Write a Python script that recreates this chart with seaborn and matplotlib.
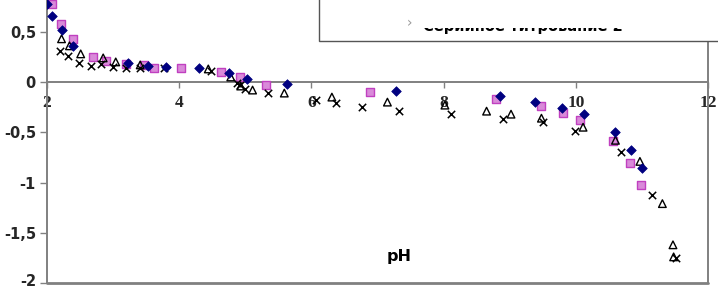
import matplotlib
matplotlib.use("Agg")
import matplotlib.pyplot as plt
import matplotlib.transforms as mtransforms
import seaborn as sns
import pandas as pd
from matplotlib.patches import Rectangle

# ---- data ----
dia_x = [2.0, 2.08, 2.22, 2.40, 3.23, 3.53, 3.80, 4.30, 4.76, 5.03, 5.63, 7.28,
         8.86, 9.39, 9.79, 10.12, 10.59, 10.84, 11.0]
dia_y = [0.78, 0.66, 0.52, 0.36, 0.19, 0.16, 0.15, 0.14, 0.09, 0.03, -0.02, -0.09,
         -0.14, -0.20, -0.26, -0.32, -0.50, -0.68, -0.86]

sq_x = [2.08, 2.21, 2.40, 2.69, 2.89, 3.19, 3.46, 3.62, 4.03, 4.63, 4.92, 5.31,
        6.89, 8.80, 9.48, 9.81, 10.06, 10.57, 10.82, 10.98]
sq_y = [0.78, 0.58, 0.43, 0.25, 0.21, 0.18, 0.17, 0.14, 0.14, 0.10, 0.05, -0.03,
        -0.10, -0.17, -0.24, -0.31, -0.38, -0.59, -0.81, -1.02]

tri_x = [2.22, 2.34, 2.51, 2.85, 3.04, 3.41, 4.44, 4.78, 4.93, 5.11, 5.59, 6.31,
         7.15, 8.02, 8.65, 9.02, 9.48, 10.11, 10.60, 10.97, 11.31, 11.47, 11.48]
tri_y = [0.43, 0.36, 0.28, 0.24, 0.20, 0.17, 0.13, 0.05, -0.04, -0.08, -0.11, -0.15,
         -0.20, -0.23, -0.29, -0.32, -0.36, -0.45, -0.58, -0.79, -1.21, -1.62, -1.74]

cross_x = [2.20, 2.32, 2.49, 2.66, 2.82, 3.0, 3.19, 3.40, 3.77, 4.48, 4.88, 4.92,
           5.0, 5.35, 6.07, 6.37, 6.76, 7.33, 8.11, 8.90, 9.51, 9.99, 10.69, 11.16, 11.51]
cross_y = [0.31, 0.26, 0.19, 0.16, 0.18, 0.15, 0.14, 0.14, 0.14, 0.11, -0.01, -0.03,
           -0.07, -0.11, -0.18, -0.21, -0.25, -0.29, -0.32, -0.37, -0.40, -0.49, -0.70, -1.12, -1.75]

x_ticks = [2, 4, 6, 8, 10, 12]
x_labels = ["2", "4", "6", "8", "10", "12"]
y_ticks = [-2, -1.5, -1, -0.5, 0, 0.5]
y_labels = ["-2", "-1,5", "-1", "-0,5", "0", "0,5"]
legend_text = "Серийное титрование 2"
x_label = "pH"

# ---- figure ----
sns.set_theme(style="white")
plt.rcParams['font.family'] = ['DejaVu Sans']

fig = plt.figure(figsize=(7.18, 2.90), dpi=100)
ax = fig.add_axes([47/718, 7/290, 661/718, 283/290])

sns.scatterplot(x=dia_x, y=dia_y, ax=ax, marker="D", s=24, color="#000080",
                edgecolor="#000080", linewidth=0.5, zorder=4)
sns.scatterplot(x=sq_x, y=sq_y, ax=ax, marker="s", s=40, color="#d98ad9",
                edgecolor="#c040c0", linewidth=1.0, zorder=3)
sns.scatterplot(x=tri_x, y=tri_y, ax=ax, marker="^", s=30, facecolor="none",
                edgecolor="black", linewidth=1.0, zorder=3)
sns.scatterplot(x=cross_x, y=cross_y, ax=ax, marker="x", s=28, color="black",
                linewidth=1.1, zorder=3)

ax.set_xlim(2, 12)
ax.set_ylim(-2, 0.816)

# spines
for s in ["left", "bottom", "right"]:
    ax.spines[s].set_color("#808080")
    ax.spines[s].set_linewidth(1.4)
ax.spines["top"].set_visible(False)
ax.spines["bottom"].set_position(("data", 0))
ax.axhline(-2, color="#808080", lw=2.0, clip_on=False, zorder=1)

ax.set_xticks(x_ticks)
ax.set_xticklabels(x_labels, fontfamily="Liberation Serif", fontweight="bold",
                   fontsize=12.5)
ax.set_yticks(y_ticks)
ax.set_yticklabels(y_labels, fontweight="bold", fontsize=10.5)
ax.tick_params(axis="x", direction="out", length=4, width=1, color="#808080",
               pad=5, bottom=True)
ax.tick_params(axis="y", direction="out", length=5, width=1, color="#808080",
               pad=3, left=True)
ax.set_xlabel("")
ax.set_ylabel("")

# nudge the lowest y label up so it stays inside the figure
lbl = ax.get_yticklabels()[0]
lbl.set_transform(lbl.get_transform() +
                  mtransforms.ScaledTranslation(0, 2.5/100, fig.dpi_scale_trans))

# axis label inside plot
ax.text(7.33, -1.74, x_label, fontsize=11.5, fontweight="bold", ha="center",
        va="center", color="black")

# clipped legend box at top
fig.patches.append(Rectangle((319/718, 249/290), 420/718, 60/290,
                             transform=fig.transFigure, facecolor="white",
                             edgecolor="#555555", linewidth=1.0, zorder=5))
fig.text(423/718, 1 - 31/290, legend_text, fontsize=10.5, fontweight="bold",
         ha="left", va="baseline", color="black", zorder=6)
fig.patches.append(Rectangle((330/718, 262.5/290), 380/718, 27.5/290,
                             transform=fig.transFigure, facecolor="white",
                             edgecolor="none", zorder=7))
fig.text(410/718, 1 - 23/290, "›", fontsize=10, color="#999999", ha="center",
         va="center", zorder=8)

fig.savefig("out.png", dpi=100)
